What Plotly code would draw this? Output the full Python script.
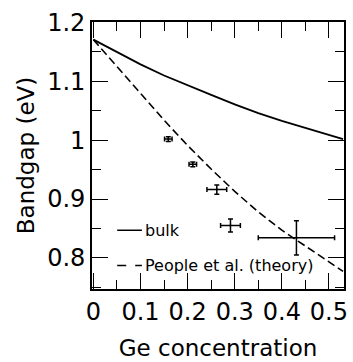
import plotly.graph_objects as go

# Ge concentration grid for the two curves
x_curve = [0.0, 0.05, 0.1, 0.15, 0.2, 0.25, 0.3, 0.35, 0.4, 0.45, 0.5, 0.53]
bulk_gap = [1.171, 1.150, 1.129, 1.110, 1.093, 1.077, 1.061, 1.046, 1.033, 1.021, 1.010, 1.002]
people_gap = [1.171, 1.125, 1.079, 1.034, 0.991, 0.951, 0.913, 0.878, 0.847, 0.820, 0.793, 0.777]

# measured points with error bars
x_meas = [0.159, 0.211, 0.262, 0.291, 0.431]
y_meas = [1.002, 0.959, 0.916, 0.855, 0.834]
x_err = [0.008, 0.008, 0.021, 0.021, 0.081]
y_err = [0.004, 0.004, 0.008, 0.011, 0.029]

x_ticks = [0, 0.1, 0.2, 0.3, 0.4, 0.5]
x_ticktext = ["0", "0.1", "0.2", "0.3", "0.4", "0.5"]
y_ticks = [0.8, 0.9, 1.0, 1.1, 1.2]
y_ticktext = ["0.8", "0.9", "1", "1.1", "1.2"]
minor_step = 0.05

legend_names = ["bulk", "People et al. (theory)"]

FONT = "DejaVu Sans"

fig = go.Figure()
fig.add_trace(go.Scatter(
    x=x_curve, y=bulk_gap, mode="lines", name=legend_names[0], showlegend=False,
    line=dict(color="black", width=1.8)))
fig.add_trace(go.Scatter(
    x=x_curve, y=people_gap, mode="lines", name=legend_names[1], showlegend=False,
    line=dict(color="black", width=1.6, dash="8px,4px")))
fig.add_trace(go.Scatter(
    x=x_meas, y=y_meas, mode="markers", showlegend=False,
    marker=dict(size=2, color="black"),
    error_x=dict(type="data", array=x_err, color="black", thickness=1.5, width=2.5),
    error_y=dict(type="data", array=y_err, color="black", thickness=1.5, width=2.5)))

# legend drawn as keys + labels inside the plot area (paper coordinates)
legend_rows = [(0.22, "solid"), (0.088, "dash")]
for name, (ly, dash) in zip(legend_names, legend_rows):
    fig.add_shape(type="line", xref="paper", yref="paper", x0=0.10, x1=0.198, y0=ly, y1=ly,
                  line=dict(color="black", width=1.5, dash=dash))
    fig.add_annotation(text=name, xref="paper", yref="paper", x=0.202, y=ly,
                       xanchor="left", yanchor="middle", showarrow=False,
                       font=dict(family=FONT, size=16, color="black"))

fig.update_layout(
    width=353, height=362,
    margin=dict(l=92, r=5, t=22, b=67),
    plot_bgcolor="white",
    xaxis=dict(
        range=[-0.003, 0.532], tickvals=x_ticks, ticktext=x_ticktext,
        showline=True, linecolor="black", linewidth=1.6, mirror="ticks",
        ticks="inside", ticklen=16, tickcolor="black",
        showgrid=False, zeroline=False,
        tickfont=dict(family=FONT, size=24, color="black"),
        minor=dict(dtick=minor_step, ticks="inside", ticklen=9, tickcolor="black"),
        title=dict(text="Ge concentration", font=dict(family=FONT, size=23, color="black"))),
    yaxis=dict(
        range=[0.747, 1.201], tickvals=y_ticks, ticktext=y_ticktext,
        showline=True, linecolor="black", linewidth=1.6, mirror="ticks",
        ticks="inside", ticklen=16, tickcolor="black",
        showgrid=False, zeroline=False,
        tickfont=dict(family=FONT, size=24, color="black"),
        minor=dict(dtick=minor_step, ticks="inside", ticklen=9, tickcolor="black"),
        title=dict(text="Bandgap (eV)", font=dict(family=FONT, size=23, color="black"),
                   standoff=6)),
)

fig.write_html("out.html")
